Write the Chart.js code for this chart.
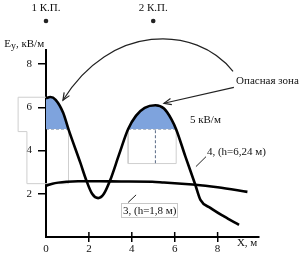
<!DOCTYPE html>
<html>
<head>
<meta charset="utf-8">
<script src="https://cdn.jsdelivr.net/npm/chart.js@4/dist/chart.umd.min.js"></script>
<style>
  html, body { margin: 0; padding: 0; background: #fff; }
  #wrap { width: 304px; height: 259px; }
</style>
</head>
<body>
<div id="wrap"><canvas id="c"></canvas></div>
<script>
/* ── data ── */
const xTicks = [0, 2, 4, 6, 8];
const yTicks = [2, 4, 6, 8];

// curve 4 (h = 6,24 m)
const curve4X = [0, 0.2, 0.45, 0.8, 1.05, 1.6, 1.87, 2.15, 2.43, 2.7, 3.0, 3.4, 3.83, 4.2, 4.6, 5.1, 5.5, 5.85, 6.07, 6.5, 6.96, 7.2, 7.66, 8.3, 9.0];
const curve4Y = [6.42, 6.48, 6.35, 5.75, 4.98, 3.44, 2.65, 2.0, 1.8, 2.0, 2.65, 3.8, 5.0, 5.62, 5.98, 6.1, 5.95, 5.45, 4.98, 3.72, 2.42, 1.72, 1.35, 0.95, 0.56];

// curve 3 (h = 1,8 m)
const curve3X = [0, 0.3, 0.98, 1.5, 2.5, 3.5, 4.95, 5.5, 6.5, 6.96, 8.0, 9.39];
const curve3Y = [2.37, 2.47, 2.56, 2.58, 2.58, 2.57, 2.56, 2.52, 2.45, 2.42, 2.3, 2.09];

const dangerLevel = 5;
const dangerSpans = [[0, 1.05], [3.83, 6.07]];
const peak2 = [5.1, 6.1];
const peakDropTo = 3.4;

// faint frames left in the original figure
const frameLeftX = [1.05, 1.05, -0.89, -0.89, -1.3, -1.3, 0];
const frameLeftY = [4.9, 2.47, 2.47, 4.88, 4.88, 6.47, 6.47];
const frameRightX = [3.83, 3.83, 6.07, 6.07];
const frameRightY = [5.0, 3.4, 3.4, 5.0];

const pts = (xs, ys) => xs.map((x, i) => ({ x: x, y: ys[i] }));

/* ── annotations (data units) ── */
const labels = [
  { text: '1 К.П.', x: 0, y: 10.47, align: 'center' },
  { text: '2 К.П.', x: 5.0, y: 10.47, align: 'center' },
  { text: 'Опасная зона', x: 8.86, y: 7.07, align: 'left' },
  { text: '5 кВ/м', x: 6.71, y: 5.3, align: 'left' },
  { text: '4, (h=6,24 м)', x: 7.5, y: 3.81, align: 'left' },
  { text: 'X, м', x: 8.9, y: -0.42, align: 'left' }
];
const dots = [[0, 10.0], [5.0, 10.0]];
const leaders = [
  [[6.99, 3.26], [7.46, 3.72]],
  [[4.2, 1.95], [3.83, 1.6]]
];

const FONT = "11px 'Liberation Serif', 'Times New Roman', serif";

const annotate = {
  id: 'annotate',
  afterDatasetsDraw(chart) {
    const { ctx, scales: { x, y } } = chart;
    const px = v => x.getPixelForValue(v);
    const py = v => y.getPixelForValue(v);
    ctx.save();

    // x tick marks poke above the axis too
    ctx.strokeStyle = '#000';
    ctx.lineWidth = 1.5;
    xTicks.forEach(t => {
      if (t === 0) return;
      ctx.beginPath();
      ctx.moveTo(px(t), py(0) - 5);
      ctx.lineTo(px(t), py(0));
      ctx.stroke();
    });

    ctx.font = FONT;
    ctx.fillStyle = '#111';
    ctx.textBaseline = 'alphabetic';
    labels.forEach(l => {
      ctx.textAlign = l.align;
      ctx.fillText(l.text, px(l.x), py(l.y));
    });

    // axis title Ey, кВ/м
    ctx.textAlign = 'left';
    let ax = px(-1.95), ay = py(8.79);
    ctx.fillText('E', ax, ay);
    ax += ctx.measureText('E').width;
    ctx.font = "10px 'Liberation Serif', serif";
    ctx.fillText('y', ax, ay + 1.5);
    ax += ctx.measureText('y').width;
    ctx.font = FONT;
    ctx.fillText(', кВ/м', ax, ay);

    // boxed label 3
    const t3 = '3, (h=1,8 м)';
    const bx = px(3.59), by = py(1.07);
    ctx.fillText(t3, bx, by);
    const w3 = ctx.measureText(t3).width;
    ctx.strokeStyle = '#c8c8c8';
    ctx.lineWidth = 1;
    ctx.strokeRect(Math.round(bx) - 1.5, Math.round(by) - 10.5, Math.round(w3) + 3, 14);

    // dots
    ctx.fillStyle = '#222';
    dots.forEach(d => {
      ctx.beginPath();
      ctx.arc(px(d[0]), py(d[1]), 2.3, 0, Math.PI * 2);
      ctx.fill();
    });

    // leader lines
    ctx.strokeStyle = '#222';
    ctx.lineWidth = 1;
    leaders.forEach(s => {
      ctx.beginPath();
      ctx.moveTo(px(s[0][0]), py(s[0][1]));
      ctx.lineTo(px(s[1][0]), py(s[1][1]));
      ctx.stroke();
    });

    // arrows to the danger zones
    const head = (fx, fy, tx, ty) => {
      const a = Math.atan2(ty - fy, tx - fx), L = 8, s = 0.4;
      ctx.beginPath();
      ctx.moveTo(tx - L * Math.cos(a - s), ty - L * Math.sin(a - s));
      ctx.lineTo(tx, ty);
      ctx.lineTo(tx - L * Math.cos(a + s), ty - L * Math.sin(a + s));
      ctx.stroke();
    };
    ctx.lineWidth = 1.2;
    const p0 = [px(8.72), py(7.67)], c1 = [px(6.95), py(9.86)], c2 = [px(2.98), py(9.86)], p3 = [px(0.79), py(6.33)];
    ctx.beginPath();
    ctx.moveTo(p0[0], p0[1]);
    ctx.bezierCurveTo(c1[0], c1[1], c2[0], c2[1], p3[0], p3[1]);
    ctx.stroke();
    head(c2[0], c2[1], p3[0], p3[1]);

    const s0 = [px(8.76), py(6.93)], s1 = [px(5.5), py(6.19)];
    ctx.beginPath();
    ctx.moveTo(s0[0], s0[1]);
    ctx.lineTo(s1[0], s1[1]);
    ctx.stroke();
    head(s0[0], s0[1], s1[0], s1[1]);

    ctx.restore();
  }
};

const dashColor = '#5a6b86';
const dangerDatasets = dangerSpans.map(s => ({
  data: [{ x: s[0], y: dangerLevel }, { x: s[1], y: dangerLevel }],
  showLine: true, borderColor: dashColor, borderWidth: 1, borderDash: [3, 2],
  pointRadius: 0, fill: false, order: 2
}));

new Chart(document.getElementById('c'), {
  type: 'scatter',
  data: {
    datasets: [
      {
        data: pts(curve4X, curve4Y),
        showLine: true, borderColor: '#000', borderWidth: 2.6,
        cubicInterpolationMode: 'monotone', pointRadius: 0,
        fill: { target: { value: dangerLevel }, above: '#7ea3dd', below: 'rgba(0,0,0,0)' },
        order: 0
      },
      {
        data: pts(curve3X, curve3Y),
        showLine: true, borderColor: '#000', borderWidth: 2.6,
        cubicInterpolationMode: 'monotone', pointRadius: 0, fill: false, order: 0
      },
      ...dangerDatasets,
      {
        data: [{ x: peak2[0], y: peak2[1] }, { x: peak2[0], y: peakDropTo }],
        showLine: true, borderColor: dashColor, borderWidth: 1, borderDash: [3, 2],
        pointRadius: 0, fill: false, order: 2
      },
      {
        data: pts(frameLeftX, frameLeftY),
        showLine: true, borderColor: '#cfcfcf', borderWidth: 1,
        pointRadius: 0, fill: false, clip: false, order: 3
      },
      {
        data: pts(frameRightX, frameRightY),
        showLine: true, borderColor: '#cfcfcf', borderWidth: 1,
        pointRadius: 0, fill: false, clip: false, order: 3
      }
    ]
  },
  options: {
    responsive: true,
    maintainAspectRatio: false,
    animation: false,
    events: [],
    layout: { padding: { top: 50, right: 45, left: 0, bottom: 0 } },
    plugins: { legend: { display: false }, tooltip: { enabled: false } },
    scales: {
      x: {
        type: 'linear', min: 0, max: 9.93,
        afterBuildTicks: s => { s.ticks = xTicks.map(v => ({ value: v })); },
        afterFit: s => { s.height = 22; },
        border: { display: true, color: '#000', width: 2 },
        grid: {
          display: true, drawOnChartArea: false, drawTicks: true, tickLength: 5,
          color: c => (c.tick && c.tick.value === 0) ? 'rgba(0,0,0,0)' : '#000', lineWidth: 1.5
        },
        ticks: { color: '#111', padding: 1, maxRotation: 0, font: { family: "'Liberation Serif', serif", size: 11 } }
      },
      y: {
        // max chosen so the 5 kV/m level lands on a whole pixel row
        type: 'linear', min: 0, max: 8.657,
        afterBuildTicks: s => { s.ticks = yTicks.map(v => ({ value: v })); },
        afterFit: s => { s.width = 46; },
        border: { display: true, color: '#000', width: 2 },
        grid: { display: true, drawOnChartArea: false, drawTicks: true, tickLength: 8, color: '#000', lineWidth: 1.5 },
        ticks: { color: '#111', padding: 6, font: { family: "'Liberation Serif', serif", size: 11 } }
      }
    }
  },
  plugins: [annotate]
});
</script>
</body>
</html>
